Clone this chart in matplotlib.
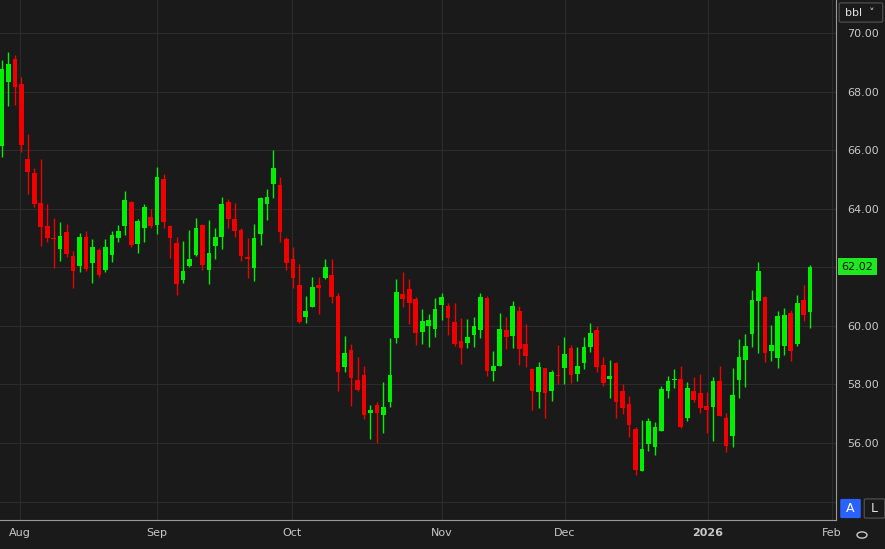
import numpy as np
import matplotlib

matplotlib.use("Agg")
import matplotlib.pyplot as plt
from matplotlib.patches import FancyBboxPatch, Circle

# daily candles
opens = [66.14, 68.34, 69.13, 68.26, 65.70, 65.21, 64.18, 63.41, 63.00, 62.62,
         63.19, 62.39, 62.03, 63.02, 62.16, 62.59, 61.91, 62.41, 63.01, 63.42,
         64.23, 62.81, 63.35, 63.71, 63.45, 65.00, 63.41, 62.82, 61.57, 62.06,
         62.42, 63.45, 61.91, 62.73, 63.02, 64.24, 63.65, 63.28, 62.33, 61.97,
         63.14, 64.17, 64.83, 64.81, 62.98, 62.28, 61.40, 60.31, 60.66, 61.40,
         61.65, 61.74, 61.02, 58.61, 59.18, 58.15, 58.33, 57.02, 57.30, 56.94,
         57.41, 59.60, 61.09, 61.25, 60.91, 59.80, 60.00, 59.89, 60.71, 60.67,
         60.13, 59.47, 59.41, 59.68, 59.87, 60.95, 58.47, 58.64, 59.86, 59.67,
         60.51, 59.38, 58.52, 57.75, 58.56, 57.79, 58.32, 58.57, 59.25, 58.36,
         58.72, 59.29, 59.86, 58.67, 58.19, 58.72, 57.76, 57.33, 56.48, 55.06,
         55.97, 55.88, 56.42, 57.76, 58.14, 58.19, 56.84, 57.79, 57.71, 57.25,
         57.24, 58.13, 56.85, 56.25, 58.15, 58.84, 59.72, 60.85, 60.97, 59.15,
         58.92, 59.31, 60.45, 59.38, 60.88, 60.48]
closes = [68.79, 68.94, 68.17, 66.18, 65.27, 64.16, 63.39, 63.01, 62.97, 63.07,
          62.47, 61.89, 63.02, 61.93, 62.68, 61.74, 62.68, 63.09, 63.24, 64.30,
          62.76, 63.58, 64.05, 63.42, 65.07, 63.56, 63.01, 61.43, 61.88, 62.29,
          63.33, 62.07, 62.48, 63.05, 64.17, 63.66, 63.23, 62.40, 62.30, 62.99,
          64.38, 64.39, 65.40, 63.22, 62.16, 61.62, 60.14, 60.51, 61.32, 61.31,
          62.00, 61.00, 58.44, 59.06, 58.23, 57.81, 56.96, 57.13, 57.02, 57.24,
          58.33, 61.17, 60.92, 60.77, 59.75, 60.17, 60.20, 60.58, 60.97, 60.27,
          59.37, 59.25, 59.62, 60.01, 60.97, 58.47, 58.63, 59.91, 59.63, 60.68,
          59.21, 58.98, 57.77, 58.58, 57.72, 58.41, 58.28, 59.03, 58.32, 58.63,
          59.29, 59.75, 58.61, 58.06, 58.29, 57.41, 57.21, 56.62, 55.09, 55.79,
          56.75, 56.53, 57.85, 58.13, 58.19, 56.56, 57.88, 57.48, 57.18, 57.14,
          58.11, 56.93, 55.91, 57.64, 58.93, 59.32, 60.90, 61.87, 59.06, 59.35,
          60.34, 60.37, 59.14, 60.79, 60.37, 62.02]
highs = [69.08, 69.34, 69.25, 68.49, 66.54, 65.38, 65.70, 64.16, 63.67, 63.54,
         63.47, 62.57, 63.16, 63.25, 62.97, 62.65, 62.97, 63.24, 63.44, 64.60,
         64.27, 63.65, 64.16, 64.00, 65.41, 65.19, 63.45, 63.02, 62.90, 63.27,
         63.67, 63.48, 63.63, 63.36, 64.40, 64.33, 64.19, 63.35, 62.99, 63.47,
         64.40, 64.69, 66.00, 65.08, 63.05, 62.71, 62.11, 61.02, 61.66, 61.66,
         62.30, 62.30, 61.14, 59.66, 59.37, 58.93, 58.63, 57.30, 57.41, 58.07,
         59.58, 61.59, 61.83, 61.59, 60.97, 60.58, 60.40, 60.94, 61.13, 60.77,
         60.78, 60.26, 60.24, 60.30, 61.14, 61.02, 59.14, 60.45, 60.31, 60.85,
         60.68, 60.08, 58.55, 58.75, 58.56, 58.49, 59.35, 59.63, 59.35, 59.29,
         59.63, 60.09, 60.00, 58.95, 58.84, 58.78, 58.02, 57.61, 56.56, 56.79,
         56.87, 56.71, 57.93, 58.30, 58.53, 58.62, 58.07, 58.27, 58.36, 57.74,
         58.25, 58.62, 57.01, 58.55, 59.54, 59.72, 61.22, 62.17, 61.02, 60.03,
         60.51, 60.62, 60.54, 61.05, 61.39, 62.09]
lows = [65.78, 67.52, 67.54, 65.95, 64.50, 64.07, 62.73, 62.88, 61.99, 62.23,
        62.34, 61.30, 61.85, 61.89, 61.45, 61.66, 61.85, 62.19, 62.88, 63.12,
        62.70, 62.50, 62.88, 63.36, 63.14, 63.34, 62.33, 61.07, 61.48, 62.02,
        62.40, 61.91, 61.43, 62.27, 62.63, 63.34, 63.04, 62.22, 61.65, 61.53,
        62.77, 63.60, 64.36, 62.86, 61.90, 61.30, 60.09, 60.11, 60.66, 60.40,
        61.61, 60.77, 57.79, 58.41, 57.28, 57.79, 56.81, 56.13, 55.99, 56.35,
        57.24, 59.41, 60.63, 60.05, 59.35, 59.37, 59.29, 59.61, 60.20, 59.68,
        59.30, 58.70, 59.23, 59.29, 59.60, 58.30, 58.11, 58.63, 59.21, 59.23,
        58.67, 58.59, 57.12, 57.20, 56.86, 57.45, 58.03, 58.00, 58.05, 58.12,
        58.52, 59.12, 58.44, 57.95, 57.53, 56.87, 56.98, 56.22, 54.89, 55.06,
        55.74, 55.60, 56.42, 57.55, 57.89, 56.51, 56.76, 57.39, 57.02, 56.34,
        56.06, 56.91, 55.68, 55.87, 57.52, 57.92, 59.29, 59.09, 58.78, 58.81,
        58.55, 59.00, 58.81, 59.31, 60.15, 59.94]

month_labels = ["Aug", "Sep", "Oct", "Nov", "Dec", "2026", "Feb"]
month_pos = [2.8, 24.0, 44.9, 68.1, 87.1, 109.2, 128.4]
price_ticks = [56, 58, 60, 62, 64, 66, 68, 70]

BG = "#1a1a1a"
GREEN = "#00f000"
RED = "#f20000"
TXT = "#c8c8c8"

fig = plt.figure(figsize=(8.85, 5.49), dpi=100, facecolor=BG)
ax = fig.add_axes([0, 29 / 549, 836 / 885, 520 / 549], facecolor=BG)

o = np.array(opens)
c = np.array(closes)
x = np.arange(len(o))
up = c >= o
colors = np.where(up, GREEN, RED)
bottom = np.minimum(o, c)
height = np.maximum(np.abs(c - o), 0.04)

ax.vlines(x, lows, highs, colors=colors, linewidth=1.0, zorder=2)
ax.bar(x, height, bottom=bottom, width=0.72, color=colors, linewidth=0, zorder=3)

ax.set_xlim(-0.3, 129.0)
ax.set_ylim(53.37, 71.13)
ax.set_yticks([54] + price_ticks)
# the 62.00 label sits under the last-price tag, so leave it blank
ax.set_yticklabels([""] + ["" if abs(v - closes[-1]) < 0.3 else f"{v:.2f}" for v in price_ticks])
ax.yaxis.tick_right()
ax.set_xticks(month_pos)
ax.set_xticklabels(month_labels)
for lbl in ax.get_xticklabels():
    if lbl.get_text() == "2026":
        lbl.set_fontweight("bold")
ax.tick_params(axis="both", colors=TXT, labelsize=8, length=0, pad=6)
ax.tick_params(axis="y", pad=8)
ax.grid(True, color="#2c2c2c", linewidth=0.8, zorder=0)
for side in ["top", "left"]:
    ax.spines[side].set_visible(False)
ax.spines["right"].set_color("#9a9a9a")
ax.spines["bottom"].set_color("#9a9a9a")

# last price tag
ax.annotate(f"{closes[-1]:.2f}", xy=(1.0, closes[-1]), xycoords=("axes fraction", "data"),
            xytext=(4, 0), textcoords="offset points", va="center", ha="left",
            fontsize=8, color="#111111",
            bbox=dict(boxstyle="square,pad=0.3", fc="#1ee81e", ec="none"))

# widgets on the right
fig.patches.append(FancyBboxPatch((841 / 885, 528 / 549), 40 / 885, 17 / 549, boxstyle="round,pad=0.002",
                                  transform=fig.transFigure, fc=BG, ec="#555555", lw=0.8))
fig.text(845 / 885, 536.5 / 549, "bbl  ˅", color="#e0e0e0", fontsize=8, va="center")
fig.patches.append(FancyBboxPatch((842 / 885, 32 / 549), 17 / 885, 17 / 549, boxstyle="round,pad=0.002",
                                  transform=fig.transFigure, fc="#2962ff", ec="none"))
fig.text(850.5 / 885, 40.5 / 549, "A", color="white", fontsize=9, ha="center", va="center")
fig.patches.append(FancyBboxPatch((866 / 885, 32 / 549), 17 / 885, 17 / 549, boxstyle="round,pad=0.002",
                                  transform=fig.transFigure, fc=BG, ec="#555555", lw=0.8))
fig.text(874.5 / 885, 40.5 / 549, "L", color="#e0e0e0", fontsize=9, ha="center", va="center")
fig.patches.append(Circle((862 / 885, 14 / 549), 5 / 885, transform=fig.transFigure,
                          fc="none", ec="#c8c8c8", lw=1.0))

fig.savefig("out.png", dpi=100, facecolor=BG)
plt.close(fig)
